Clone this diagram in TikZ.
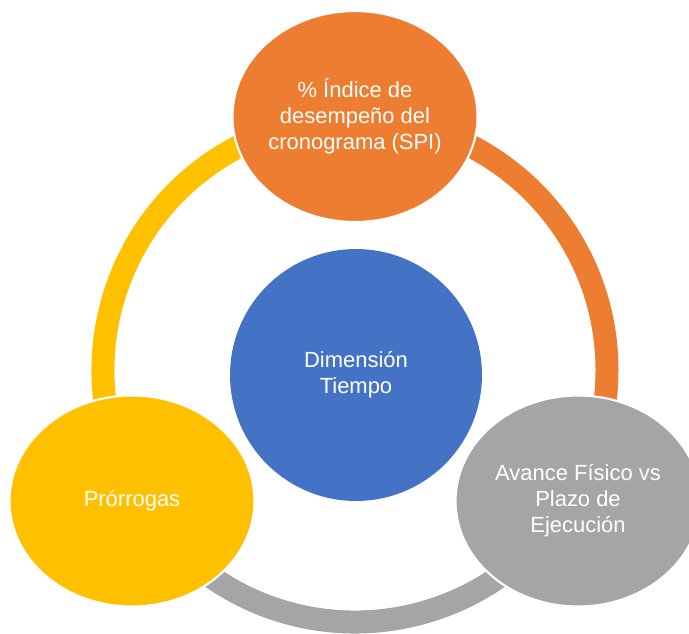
\documentclass[tikz,border=0pt]{standalone}
\usepackage{fontspec}
\setmainfont{Liberation Sans}
\usepackage{xcolor}
\usepackage{tikz}
\usetikzlibrary{shapes,positioning,calc}

\definecolor{cycOrange}{HTML}{ED7D31}
\definecolor{cycGray}{HTML}{A5A5A5}
\definecolor{cycYellow}{HTML}{FFC000}
\definecolor{cycBlue}{HTML}{4472C4}

\begin{document}
\begin{tikzpicture}[
    x=0.02cm, y=0.02cm,
    blob/.style={ellipse, draw=white, line width=1.2pt, minimum width=4.9cm, minimum height=4.22cm, inner sep=0pt, align=center, text=white, font=\fontsize{12.5}{14.8}\selectfont},
    hub/.style={circle, fill=cycBlue, minimum size=5.04cm, inner sep=0pt, align=center, text=white, font=\fontsize{12.5}{14.8}\selectfont},
    ring/.style={line width=0.46cm}
]
\useasboundingbox (0,0) rectangle (689,633);

% Centre of the ring
\coordinate (ctr) at (355,263);

% Ring
\draw[ring, cycOrange] (ctr) ++(90:252) arc[start angle=90, end angle=-30, radius=252];
\draw[ring, cycGray] (ctr) ++(-30:252) arc[start angle=-30, end angle=-150, radius=252];
\draw[ring, cycYellow] (ctr) ++(210:252) arc[start angle=210, end angle=90, radius=252];

% Centre
\node[hub] (tiempo) at (356,258) {Dimensión\\Tiempo};

% Three items
\node[blob, fill=cycOrange] (spi) at (355,516.5) {\% Índice de\\desempeño del\\cronograma (SPI)};
\node[blob, fill=cycGray] (avance) at (578,132) {Avance Físico vs\\Plazo de\\Ejecución};
\node[blob, fill=cycYellow] (prorrogas) at (132,132) {Prórrogas};

\end{tikzpicture}
\end{document}
